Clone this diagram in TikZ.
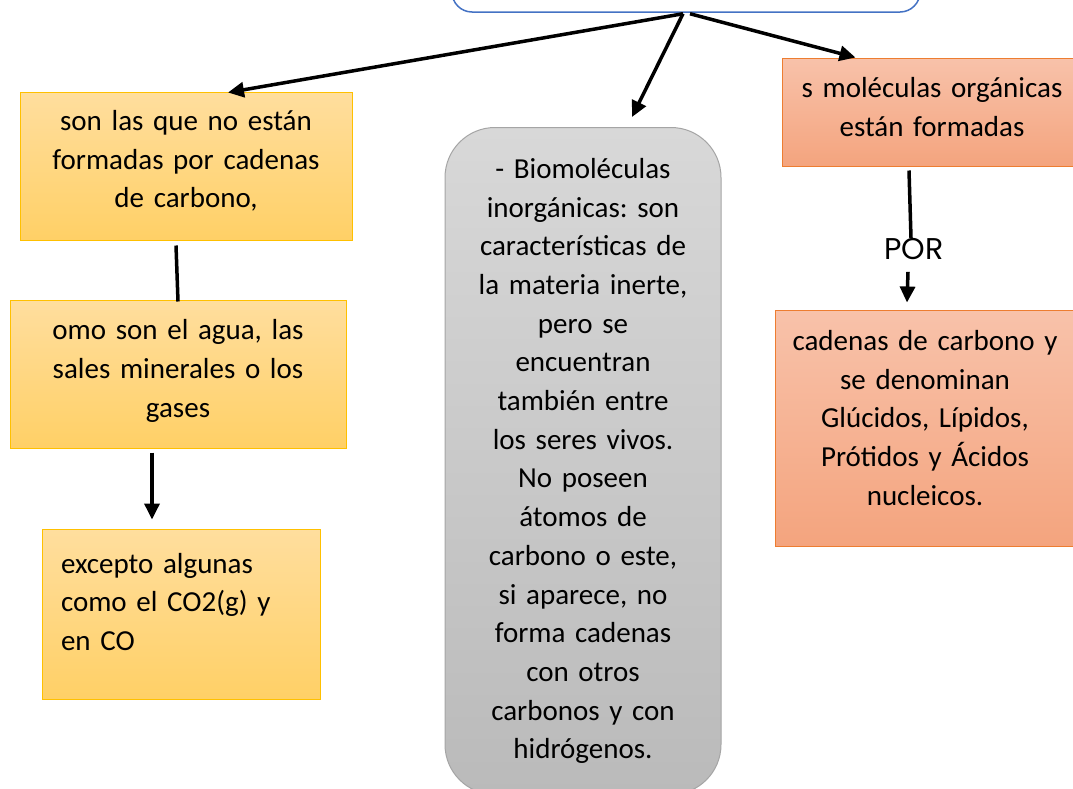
\documentclass[tikz,border=0pt]{standalone}
\usepackage{fontspec}
\setmainfont[WordSpace=0.75]{Carlito}
\newfontfamily\porfont{Poppins}
\frenchspacing
\usetikzlibrary{arrows.meta,positioning,calc}

\definecolor{goldtop}{RGB}{255,222,158}
\definecolor{goldbot}{RGB}{255,208,102}
\definecolor{goldline}{RGB}{255,192,0}
\definecolor{salmtop}{RGB}{248,194,170}
\definecolor{salmbot}{RGB}{244,164,126}
\definecolor{salmline}{RGB}{237,125,49}
\definecolor{greytop}{RGB}{216,216,216}
\definecolor{greybot}{RGB}{186,186,186}
\definecolor{greyline}{RGB}{165,165,165}
\definecolor{blueline}{RGB}{68,114,196}

\tikzset{
  mapfont/.style={font=\fontsize{29}{38.7}\selectfont},
  lift/.style={execute at end node={\par\vspace{#1}}},
  goldbox/.style={mapfont, draw=goldline, line width=1pt, top color=goldtop, bottom color=goldbot, align=center, inner sep=0pt},
  salmbox/.style={mapfont, draw=salmline, line width=1pt, top color=salmtop, bottom color=salmbot, align=center, inner sep=0pt},
  greybox/.style={mapfont, draw=greyline, line width=1pt, top color=greytop, bottom color=greybot, align=center, inner sep=0pt, rounded corners=50pt},
  link/.style={line width=3.5pt, -{Triangle[length=16pt,width=15pt]}},
  plainlink/.style={line width=3.5pt},
}

\begin{document}
\begin{tikzpicture}[x=1pt,y=-1pt]
\clip (0,0) rectangle (1073,788);
\fill[white] (0,0) rectangle (1073,788);

% Top box
\node[draw=blueline, line width=1.5pt, fill=white, rounded corners=20pt, minimum width=468pt, minimum height=84pt] (tema) at (686,-30) {};

% Left column
\node[goldbox, lift=10pt, minimum width=332pt, minimum height=148pt, text width=300pt] (noestan) at (186,166) {son las que no están\\formadas por cadenas\\de carbono,};
\node[goldbox, lift=6pt, minimum width=336pt, minimum height=148pt, text width=310pt] (agua) at (178,374) {omo son el agua, las\\sales minerales o los\\gases};
\node[goldbox, lift=24pt, minimum width=278pt, minimum height=170pt, text width=240pt, align=left] (excepto) at (181,614) {excepto algunas\\como el CO2(g) y\\en CO};

% Middle column
\node[greybox, minimum width=276pt, minimum height=667pt, text width=250pt] (inorg) at (583,461) {- Biomoléculas\\inorgánicas: son\\características de\\la materia inerte,\\pero se\\encuentran\\también entre\\los seres vivos.\\No poseen\\átomos de\\carbono o este,\\si aparece, no\\forma cadenas\\con otros\\carbonos y con\\hidrógenos.};

% Right column
\node[salmbox, lift=10pt, minimum width=300pt, minimum height=108pt, text width=290pt] (organicas) at (932,112) {s moléculas orgánicas\\están formadas};
\node[font=\porfont\fontsize{30}{36}\selectfont, inner sep=2pt] (por) at (914,249) {POR};
\node[salmbox, lift=20pt, minimum width=300pt, minimum height=236pt, text width=290pt] (cadenas) at (925,428) {cadenas de carbono y\\se denominan\\Glúcidos, Lípidos,\\Prótidos y Ácidos\\nucleicos.};

% Connectors
\draw[link] ($(tema.south)+(-3,1)$) -- ($(noestan.north)+(42,1)$);
\draw[link] ($(tema.south)+(-3,1)$) -- ($(inorg.north)+(49,-10)$);
\draw[link] ($(tema.south)+(4,1)$) -- ($(organicas.north west)+(74,0)$);
\draw[plainlink] ($(noestan.south)+(-10,5)$) -- ($(agua.north)+(0,2)$);
\draw[link] ($(agua.south)+(-26,4)$) -- ($(excepto.north)+(-29,-9)$);
\draw[plainlink] ($(organicas.south)+(-23,4)$) -- ($(por.north)+(-3,2)$);
\draw[link] ($(por.south)+(-6,10)$) -- ($(cadenas.north)+(-18,-7)$);
\end{tikzpicture}
\end{document}
